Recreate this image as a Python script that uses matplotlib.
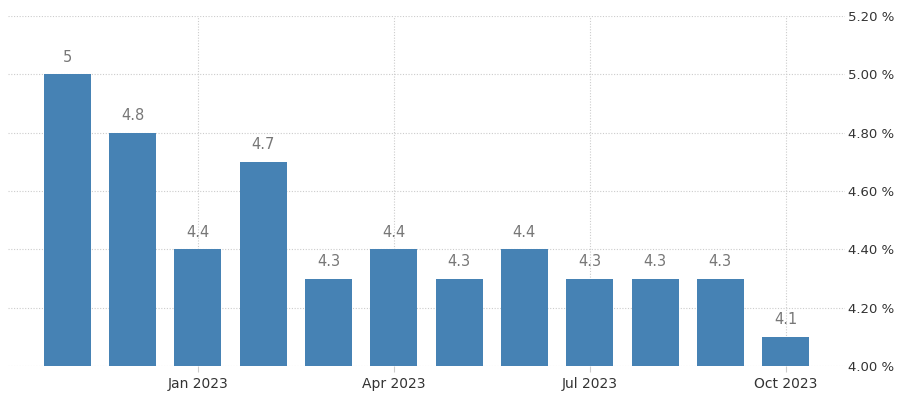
import matplotlib
matplotlib.use("Agg")
import matplotlib.pyplot as plt

months = ["Nov 2022", "Dec 2022", "Jan 2023", "Feb 2023", "Mar 2023", "Apr 2023",
          "May 2023", "Jun 2023", "Jul 2023", "Aug 2023", "Sep 2023", "Oct 2023"]
values = [5.0, 4.8, 4.4, 4.7, 4.3, 4.4, 4.3, 4.4, 4.3, 4.3, 4.3, 4.1]
value_labels = ["5", "4.8", "4.4", "4.7", "4.3", "4.4", "4.3", "4.4", "4.3", "4.3", "4.3", "4.1"]
tick_months = ["Jan 2023", "Apr 2023", "Jul 2023", "Oct 2023"]
y_ticks = [4.0, 4.2, 4.4, 4.6, 4.8, 5.0, 5.2]

plt.rcParams['font.family'] = ['DejaVu Sans']

fig = plt.figure(figsize=(9, 3.96), dpi=100)
ax = fig.add_axes([8/900, 30/396, (845-8)/900, (366-16)/396])

x = list(range(len(months)))
ax.bar(x, [v - 4.0 for v in values], bottom=4.0, width=0.72,
       color="#4682b4", zorder=3)
for xi, v, lab in zip(x, values, value_labels):
    ax.annotate(lab, (xi, v), xytext=(0, 7), textcoords="offset points",
                ha="center", va="bottom", fontsize=10.5, color="#777777", zorder=4)

ax.set_xlim(-0.91, 11.91)
ax.set_ylim(4.0, 5.2)

tick_pos = [months.index(m) for m in tick_months]
ax.set_xticks(tick_pos)
ax.set_xticklabels(tick_months, fontsize=10, color="#333333")
ax.set_yticks(y_ticks)
ax.set_yticklabels([f"{t:.2f} %" for t in y_ticks], fontsize=9.5, color="#333333")
ax.yaxis.tick_right()
ax.tick_params(axis="y", length=0, pad=2)
ax.tick_params(axis="x", length=4, color="#cccccc", pad=4)

ax.grid(True, linestyle=(0, (1, 1.5)), color="#cccccc", linewidth=0.8, zorder=0)
for s in ax.spines.values():
    s.set_visible(False)

fig.savefig("out.png", dpi=100)
